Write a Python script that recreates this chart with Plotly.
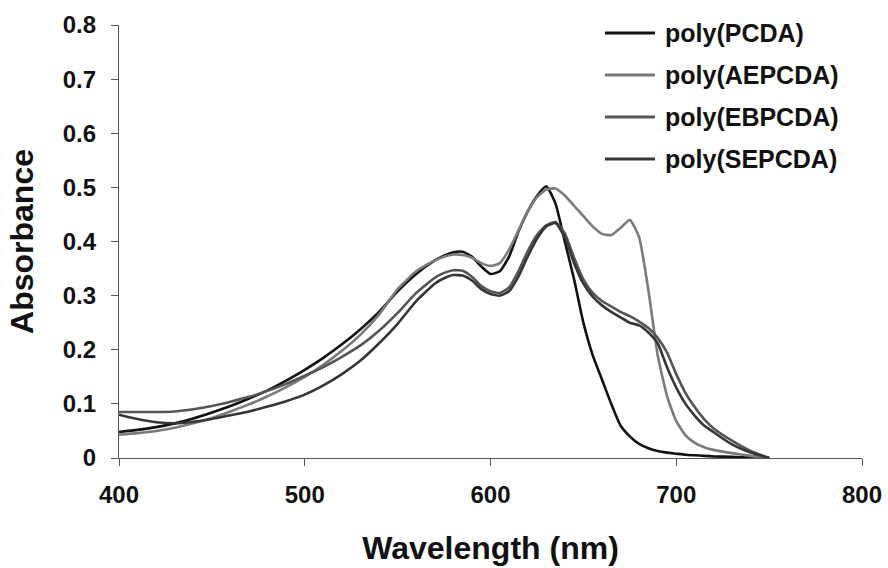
import plotly.graph_objects as go

# Wavelength grid (nm) shared by all spectra
wavelength = [400, 410, 420, 430, 440, 450, 460, 470, 480, 490, 500, 510, 520, 530, 540,
              550, 560, 570, 575, 580, 585, 590, 595, 600, 605, 610, 615, 620, 625, 630,
              635, 640, 645, 650, 655, 660, 665, 670, 675, 680, 685, 690, 695, 700, 705,
              710, 715, 720, 730, 740, 750]

abs_pcda = [0.048, 0.052, 0.057, 0.064, 0.073, 0.084, 0.096, 0.110, 0.125, 0.143, 0.163,
            0.185, 0.210, 0.238, 0.270, 0.308, 0.340, 0.365, 0.374, 0.380, 0.381, 0.372,
            0.354, 0.340, 0.345, 0.372, 0.418, 0.455, 0.484, 0.502, 0.470, 0.400, 0.330,
            0.250, 0.190, 0.145, 0.100, 0.060, 0.040, 0.026, 0.018, 0.013, 0.010, 0.008,
            0.006, 0.005, 0.004, 0.003, 0.002, 0.001, 0.000]

abs_aepcda = [0.043, 0.046, 0.050, 0.056, 0.064, 0.074, 0.086, 0.099, 0.114, 0.131, 0.150,
              0.172, 0.198, 0.228, 0.265, 0.312, 0.345, 0.365, 0.372, 0.376, 0.375, 0.370,
              0.360, 0.355, 0.360, 0.385, 0.420, 0.455, 0.482, 0.496, 0.498, 0.485, 0.466,
              0.447, 0.428, 0.414, 0.412, 0.425, 0.440, 0.408, 0.310, 0.190, 0.115, 0.068,
              0.042, 0.028, 0.020, 0.015, 0.009, 0.004, 0.000]

abs_ebpcda = [0.085, 0.085, 0.085, 0.086, 0.090, 0.096, 0.104, 0.113, 0.124, 0.137, 0.152,
              0.168, 0.187, 0.208, 0.235, 0.268, 0.305, 0.333, 0.342, 0.347, 0.346, 0.335,
              0.318, 0.308, 0.305, 0.315, 0.345, 0.382, 0.412, 0.430, 0.436, 0.415, 0.370,
              0.330, 0.305, 0.290, 0.280, 0.270, 0.262, 0.252, 0.240, 0.222, 0.195, 0.155,
              0.120, 0.094, 0.072, 0.055, 0.032, 0.013, 0.000]

abs_sepcda = [0.080, 0.072, 0.066, 0.064, 0.067, 0.072, 0.079, 0.086, 0.095, 0.105, 0.117,
              0.134, 0.155, 0.180, 0.212, 0.248, 0.290, 0.322, 0.332, 0.338, 0.337, 0.328,
              0.312, 0.303, 0.300, 0.308, 0.335, 0.372, 0.405, 0.428, 0.434, 0.408, 0.360,
              0.322, 0.298, 0.282, 0.270, 0.260, 0.250, 0.245, 0.232, 0.212, 0.168, 0.130,
              0.100, 0.078, 0.060, 0.048, 0.025, 0.010, 0.000]

series_names = ["poly(PCDA)", "poly(AEPCDA)", "poly(EBPCDA)", "poly(SEPCDA)"]
series_values = [abs_pcda, abs_aepcda, abs_ebpcda, abs_sepcda]
series_colors = ["#111111", "#7a7a7a", "#555555", "#363636"]

x_ticks = [400, 500, 600, 700, 800]
y_ticks = [0, 0.1, 0.2, 0.3, 0.4, 0.5, 0.6, 0.7, 0.8]
y_tick_text = ["0", "0.1", "0.2", "0.3", "0.4", "0.5", "0.6", "0.7", "0.8"]

FONT = "Liberation Sans, Arial, Helvetica, sans-serif"

fig = go.Figure()
for name, vals, col in zip(series_names, series_values, series_colors):
    fig.add_trace(go.Scatter(
        x=wavelength, y=vals, name=name, mode="lines",
        line=dict(color=col, width=2.6, shape="spline", smoothing=0.5),
        showlegend=False,
    ))

# Legend drawn as line samples plus labels at the upper right
leg_x0, leg_x1, leg_text_x = 0.654, 0.7214, 0.7322
leg_rows = [0.9815, 0.8845, 0.7875, 0.6905]
for name, col, ly in zip(series_names, series_colors, leg_rows):
    fig.add_shape(type="line", xref="paper", yref="paper",
                  x0=leg_x0, x1=leg_x1, y0=ly, y1=ly,
                  line=dict(color=col, width=3.2))
    fig.add_annotation(xref="paper", yref="paper", x=leg_text_x, y=ly,
                       text=name, showarrow=False, xanchor="left", yanchor="middle",
                       font=dict(family=FONT, size=25, color="#111111", weight="bold"))

axis_common = dict(
    showgrid=False, zeroline=False, showline=True, linecolor="#555555", linewidth=1.2,
    ticks="outside", ticklen=7, tickwidth=1.2, tickcolor="#555555",
    tickfont=dict(family=FONT, size=24, color="#111111", weight="bold"),
)

fig.update_xaxes(range=[400, 800], tickvals=x_ticks, ticklabelstandoff=8,
                 title=dict(text="Wavelength (nm)", standoff=29,
                            font=dict(family=FONT, size=32, color="#111111", weight="bold")),
                 **axis_common)
fig.update_yaxes(range=[0, 0.8], tickvals=y_ticks, ticktext=y_tick_text, ticklabelstandoff=10,
                 title=dict(text="Absorbance", standoff=19,
                            font=dict(family=FONT, size=32, color="#111111", weight="bold")),
                 **axis_common)

fig.update_layout(
    width=888, height=568,
    margin=dict(l=119, r=26, t=25, b=110, autoexpand=False),
    plot_bgcolor="white", paper_bgcolor="white",
)

fig.write_html("out.html")
